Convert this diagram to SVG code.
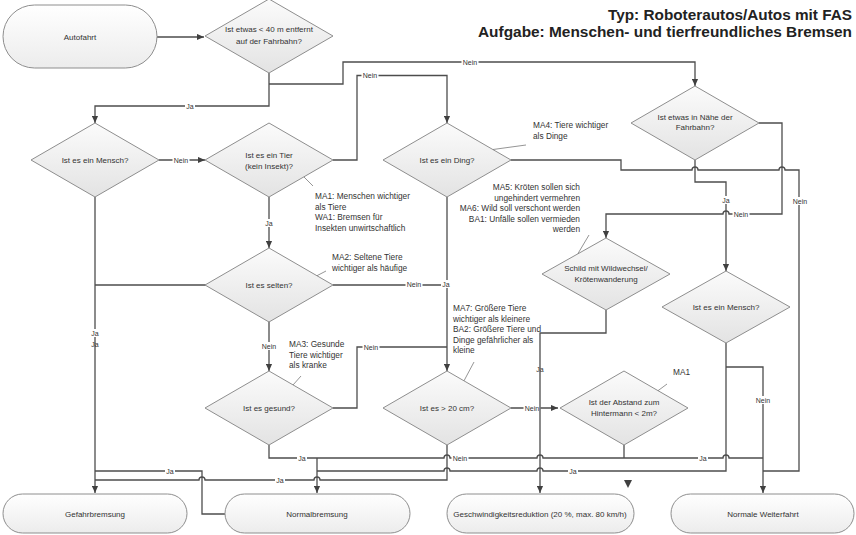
<svg xmlns="http://www.w3.org/2000/svg" width="856" height="535" viewBox="0 0 856 535">
<defs>
<linearGradient id="gd" x1="0" y1="0" x2="0" y2="1"><stop offset="0" stop-color="#fbfbfb"/><stop offset="1" stop-color="#e3e3e3"/></linearGradient>
<linearGradient id="gs" x1="0" y1="0" x2="0" y2="1"><stop offset="0" stop-color="#ffffff"/><stop offset="1" stop-color="#ececec"/></linearGradient>
<marker id="a" viewBox="0 0 8 8" refX="8" refY="4" markerWidth="7" markerHeight="7" orient="auto" markerUnits="userSpaceOnUse"><path d="M0,0.5 L8,4 L0,7.5z" fill="#404040"/></marker>
<style>
.d{fill:url(#gd);stroke:#8e8e8e;stroke-width:1}
.s{fill:url(#gs);stroke:#8e8e8e;stroke-width:1}
.t{font-family:"Liberation Sans",Arial,sans-serif;font-size:8px;fill:#333;text-anchor:middle}
.n{font-family:"Liberation Sans",Arial,sans-serif;font-size:8.3px;fill:#333}
.c{fill:none;stroke:#4d4d4d;stroke-width:1.3}
.m{marker-end:url(#a)}
.l{font-family:"Liberation Sans",Arial,sans-serif;font-size:7px;fill:#333;text-anchor:middle}
.b{fill:#fff}
.ld{stroke:#7a7a7a;stroke-width:0.8}
.h{font-family:"Liberation Sans",Arial,sans-serif;font-size:14.5px;font-weight:bold;fill:#222;text-anchor:end}
</style>
</defs>
<rect width="856" height="535" fill="#fff"/>
<g id="title">
<text class="h" x="852" y="20" textLength="244" lengthAdjust="spacingAndGlyphs">Typ: Roboterautos/Autos mit FAS</text>
<text class="h" x="852" y="37" textLength="374" lengthAdjust="spacingAndGlyphs">Aufgabe: Menschen- und tierfreundliches Bremsen</text>
</g>
<g id="connectors">
<path class="c m" d="M157,37 H204"/>
<path class="c m" d="M269,73 V106 H95 V123"/>
<path class="c m" d="M269,84 H343 V62 H695 V86"/>
<path class="c m" d="M159,160 H205"/>
<path class="c m" d="M95,197 V493"/>
<path class="c m" d="M333,160 H357 V75.5 H447 V123"/>
<path class="c m" d="M269,197 V248"/>
<path class="c" d="M206,285 H95"/>
<path class="c" d="M95,471 H202 V514 H225"/>
<path class="c" d="M333,285 H447"/>
<path class="c m" d="M269,321 V371"/>
<path class="c" d="M333,408 H357 V347 H447"/>
<path class="c m" d="M447,197 V371"/>
<path class="c" d="M511,160 H621 V170 H692 a3,3 0 0 1 6,0 H779 a3,3 0 0 1 6,0 H799 V471 H763"/>
<path class="c" d="M447,445 V480 H320 a3,3 0 0 0 -6,0 H205 a3,3 0 0 0 -6,0 H95"/>
<path class="c m" d="M511,408 H558"/>
<path class="c" d="M269,445 V458 H444 a3,3 0 0 1 6,0 H537 a3,3 0 0 1 6,0 H723 a3,3 0 0 1 6,0 H763"/>
<path class="c" d="M624,445 V458"/>
<path class="c m" d="M317,458 V493"/>
<path class="c" d="M726,343 V471 H543 a3,3 0 0 0 -6,0 H450 a3,3 0 0 0 -6,0 H317"/>
<path class="c m" d="M726,367 H763 V493"/>
<path class="c m" d="M695,160 V182 H726 V271"/>
<path class="c m" d="M759,123 H782 V214 H729 a3,3 0 0 0 -6,0 H606 V238"/>
<path d="M624,480 L632,480 L628,488z" fill="#404040"/>
<g id="labels">
<rect class="b" x="185" y="102" width="10" height="8"/><text class="l" x="190" y="108.5">Ja</text>
<rect class="b" x="461.5" y="58" width="17" height="8"/><text class="l" x="470" y="64.5">Nein</text>
<rect class="b" x="172.5" y="156" width="17" height="8"/><text class="l" x="181" y="162.5">Nein</text>
<rect class="b" x="90" y="329" width="10" height="8"/><text class="l" x="95" y="335.5">Ja</text>
<text class="l" x="95" y="346.5">Ja</text>
<rect class="b" x="361.5" y="71.5" width="17" height="8"/><text class="l" x="370" y="78">Nein</text>
<rect class="b" x="264" y="219" width="10" height="8"/><text class="l" x="269" y="225.5">Ja</text>
<rect class="b" x="165" y="467" width="10" height="8"/><text class="l" x="170" y="473.5">Ja</text>
<rect class="b" x="405.5" y="280" width="17" height="8"/><text class="l" x="414" y="286.5">Nein</text>
<rect class="b" x="260.5" y="342" width="17" height="8"/><text class="l" x="269" y="348.5">Nein</text>
<rect class="b" x="362.5" y="343" width="17" height="8"/><text class="l" x="371" y="349.5">Nein</text>
<rect class="b" x="297" y="454" width="10" height="8"/><text class="l" x="302" y="460.5">Ja</text>
<rect class="b" x="441" y="280" width="10" height="8"/><text class="l" x="446" y="286.5">Ja</text>
<rect class="b" x="791.5" y="197" width="17" height="8"/><text class="l" x="800" y="203.5">Nein</text>
<rect class="b" x="275" y="476" width="10" height="8"/><text class="l" x="280" y="482.5">Ja</text>
<rect class="b" x="523.5" y="404" width="17" height="8"/><text class="l" x="532" y="410.5">Nein</text>
<rect class="b" x="451.5" y="454" width="17" height="8"/><text class="l" x="460" y="460.5">Nein</text>
<rect class="b" x="698" y="454" width="10" height="8"/><text class="l" x="703" y="460.5">Ja</text>
<rect class="b" x="568" y="467" width="10" height="8"/><text class="l" x="573" y="473.5">Ja</text>
<rect class="b" x="754.5" y="396" width="17" height="8"/><text class="l" x="763" y="402.5">Nein</text>
<rect class="b" x="721" y="196" width="10" height="8"/><text class="l" x="726" y="202.5">Ja</text>
<rect class="b" x="732.5" y="210" width="17" height="8"/><text class="l" x="741" y="216.5">Nein</text>
<rect class="b" x="535" y="365" width="10" height="8"/><text class="l" x="540" y="371.5">Ja</text>
</g>
<path class="c m" d="M606,310 V333 H540 V493"/>
</g>
<g id="autofahrt"><rect class="s" x="3" y="5" width="154" height="63" rx="31.5"/><text class="t" x="80" y="39.8">Autofahrt</text></g>
<g id="q40m"><path class="d" d="M269,-1 L333,36 L269,73 L205,36z"/><text class="t" x="269" y="31.8">Ist etwas &lt; 40 m entfernt</text><text class="t" x="269" y="43.8">auf der Fahrbahn?</text></g>
<g id="mensch1"><path class="d" d="M95,123 L159,160 L95,197 L31,160z"/><text class="t" x="95" y="163.3">Ist es ein Mensch?</text></g>
<g id="tier"><path class="d" d="M269,123 L333,160 L269,197 L205,160z"/><text class="t" x="269" y="157.8">Ist es ein Tier</text><text class="t" x="269" y="168.8">(kein Insekt)?</text></g>
<g id="ding"><path class="d" d="M447,123 L511,160 L447,197 L383,160z"/><text class="t" x="447" y="162.8">Ist es ein Ding?</text></g>
<g id="naehe"><path class="d" d="M695,86 L759,123 L695,160 L631,123z"/><text class="t" x="695" y="119.8">Ist etwas in Nähe der</text><text class="t" x="695" y="130.3">Fahrbahn?</text></g>
<g id="selten"><path class="d" d="M269,248 L333,285 L269,322 L205,285z"/><text class="t" x="269" y="287.8">Ist es selten?</text></g>
<g id="schild"><path class="d" d="M606,238 L670,274 L606,310 L542,274z"/><text class="t" x="606" y="270.8">Schild mit Wildwechsel/</text><text class="t" x="606" y="281.8">Krötenwanderung</text></g>
<g id="mensch2"><path class="d" d="M726,271 L790,307 L726,343 L662,307z"/><text class="t" x="726" y="309.8">Ist es ein Mensch?</text></g>
<g id="gesund"><path class="d" d="M269,371 L333,408 L269,445 L205,408z"/><text class="t" x="269" y="410.8">Ist es gesund?</text></g>
<g id="groesser20"><path class="d" d="M447,371 L511,408 L447,445 L383,408z"/><text class="t" x="447" y="410.8">Ist es &gt; 20 cm?</text></g>
<g id="abstand"><path class="d" d="M624,371 L688,408 L624,445 L560,408z"/><text class="t" x="624" y="404.8">Ist der Abstand zum</text><text class="t" x="624" y="415.8">Hintermann &lt; 2m?</text></g>
<g id="gefahrbremsung"><rect class="s" x="3" y="494" width="184" height="39" rx="19.5"/><text class="t" x="95" y="516.8">Gefahrbremsung</text></g>
<g id="normalbremsung"><rect class="s" x="225" y="494" width="185" height="39" rx="19.5"/><text class="t" x="317" y="516.8">Normalbremsung</text></g>
<g id="geschwindigkeitsreduktion"><rect class="s" x="447" y="494" width="187" height="39" rx="19.5"/><text class="t" x="540" y="516.8">Geschwindigkeitsreduktion (20 %, max. 80 km/h)</text></g>
<g id="weiterfahrt"><rect class="s" x="671" y="494" width="183" height="39" rx="19.5"/><text class="t" x="763" y="516.8">Normale Weiterfahrt</text></g>
<g id="annotations">
<line class="ld" x1="493" y1="149.5" x2="526" y2="145"/>
<text class="n" x="533" y="128">MA4: Tiere wichtiger</text>
<text class="n" x="533" y="138.5">als Dinge</text>
<line class="ld" x1="304" y1="177" x2="313" y2="186"/>
<text class="n" x="315" y="199">MA1: Menschen wichtiger</text>
<text class="n" x="315" y="209.5">als Tiere</text>
<text class="n" x="315" y="220">WA1: Bremsen für</text>
<text class="n" x="315" y="230.5">Insekten unwirtschaftlich</text>
<line class="ld" x1="578" y1="253.5" x2="589" y2="235"/>
<text class="n" x="580" y="190" text-anchor="end">MA5: Kröten sollen sich</text>
<text class="n" x="580" y="200.5" text-anchor="end">ungehindert vermehren</text>
<text class="n" x="580" y="211" text-anchor="end">MA6: Wild soll verschont werden</text>
<text class="n" x="580" y="221.5" text-anchor="end">BA1: Unfälle sollen vermieden</text>
<text class="n" x="580" y="232" text-anchor="end">werden</text>
<line class="ld" x1="317" y1="275.7" x2="326" y2="271"/>
<text class="n" x="332" y="260">MA2: Seltene Tiere</text>
<text class="n" x="332" y="270.5">wichtiger als häufige</text>
<line class="ld" x1="293" y1="385" x2="301" y2="376"/>
<text class="n" x="289" y="347">MA3: Gesunde</text>
<text class="n" x="289" y="357.5">Tiere wichtiger</text>
<text class="n" x="289" y="368">als kranke</text>
<line class="ld" x1="464" y1="380.8" x2="474" y2="362"/>
<text class="n" x="453" y="311">MA7: Größere Tiere</text>
<text class="n" x="453" y="321.5">wichtiger als kleinere</text>
<text class="n" x="453" y="332">BA2: Größere Tiere und</text>
<text class="n" x="453" y="342.5">Dinge gefährlicher als</text>
<text class="n" x="453" y="353">kleine</text>
<line class="ld" x1="658" y1="390.7" x2="667" y2="384"/>
<text class="n" x="673" y="375">MA1</text>
</g>
</svg>
